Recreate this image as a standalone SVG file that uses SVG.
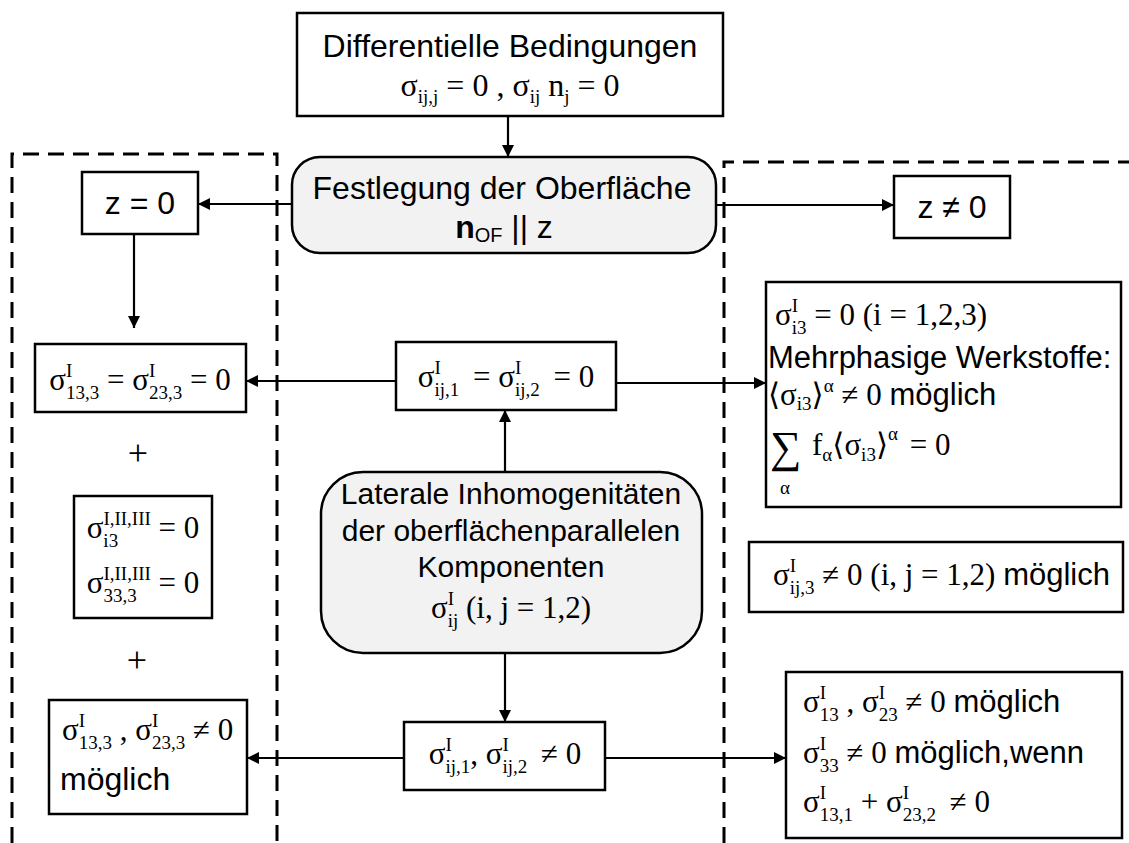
<svg xmlns="http://www.w3.org/2000/svg" width="1129" height="843" viewBox="0 0 1129 843">
<style>
.box{fill:#fff;stroke:#000;stroke-width:2.5}
.rbox{fill:#f2f2f2;stroke:#000;stroke-width:2.5}
.dash{fill:none;stroke:#000;stroke-width:3;stroke-dasharray:16 9}
.con{fill:none;stroke:#000;stroke-width:2.2}
.t{font-family:"Liberation Sans",Arial,sans-serif;font-size:32px;fill:#000}
.t30{font-size:30px}
.t31{font-size:31px}
.m{font-family:"Liberation Serif","Times New Roman","DejaVu Serif",serif;font-size:31px;fill:#000}
.s{font-size:19px}
.pl{font-family:"Liberation Serif",serif;font-size:36px}
.sum{font-size:44px}
</style>
<defs>
<marker id="ah" viewBox="0 0 12 12" refX="12" refY="6" markerWidth="12" markerHeight="12" markerUnits="userSpaceOnUse" orient="auto">
<path d="M0,0 L12,6 L0,12 Z" fill="#000"/>
</marker>
</defs>
<rect width="1129" height="843" fill="#fff"/>

<g id="regions">
<path class="dash" d="M12,843 V154 H277 V843"/>
<path class="dash" d="M724,843 V162 H1129"/>
</g>

<g id="connectors">
<line class="con" x1="508" y1="116" x2="508" y2="157" marker-end="url(#ah)"/>
<line class="con" x1="292" y1="204" x2="198" y2="204" marker-end="url(#ah)"/>
<line class="con" x1="716" y1="205" x2="894" y2="205" marker-end="url(#ah)"/>
<line class="con" x1="134" y1="234" x2="134" y2="328" marker-end="url(#ah)"/>
<line class="con" x1="396" y1="381" x2="246" y2="381" marker-end="url(#ah)"/>
<line class="con" x1="616" y1="383" x2="766" y2="383" marker-end="url(#ah)"/>
<line class="con" x1="505" y1="472" x2="505" y2="410" marker-end="url(#ah)"/>
<line class="con" x1="505" y1="653" x2="505" y2="722" marker-end="url(#ah)"/>
<line class="con" x1="404" y1="758" x2="247" y2="758" marker-end="url(#ah)"/>
<line class="con" x1="605" y1="758" x2="786" y2="758" marker-end="url(#ah)"/>
</g>

<g id="n-top">
<rect class="box" x="297" y="13" width="426" height="103"/>
<text class="t" x="510" y="57" text-anchor="middle">Differentielle Bedingungen</text>
<text class="m" x="510" y="96" text-anchor="middle" style="font-size:32px">σ<tspan class="s" dy="7">ij,j</tspan><tspan dy="-7"> = 0 , σ</tspan><tspan class="s" dy="7">ij</tspan><tspan dy="-7"> n</tspan><tspan class="s" dy="7">j</tspan><tspan dy="-7"> = 0</tspan></text>
</g>

<g id="n-festlegung">
<rect class="rbox" x="292" y="157" width="424" height="96" rx="28"/>
<text class="t" x="502" y="199" text-anchor="middle">Festlegung der Oberfläche</text>
<text class="t" x="504" y="238" text-anchor="middle"><tspan font-weight="bold">n</tspan><tspan style="font-size:20px" dy="4">OF</tspan><tspan dy="-4"> || z</tspan></text>
</g>

<g id="n-z0">
<rect class="box" x="82" y="172" width="116" height="62"/>
<text class="t" x="140" y="214" text-anchor="middle">z = 0</text>
</g>

<g id="n-zne0">
<rect class="box" x="894" y="176" width="116" height="62"/>
<text class="t" x="952" y="218" text-anchor="middle">z ≠ 0</text>
</g>

<g id="n-left1">
<rect class="box" x="35" y="344" width="211" height="68"/>
<text class="m" x="140" y="390" text-anchor="middle">σ<tspan class="s" dy="-13">I</tspan><tspan class="s" dx="-6.3" dy="22">13,3</tspan><tspan dy="-9"> = σ</tspan><tspan class="s" dy="-13">I</tspan><tspan class="s" dx="-6.3" dy="22">23,3</tspan><tspan dy="-9"> = 0</tspan></text>
</g>

<text class="pl" x="138" y="465" text-anchor="middle">+</text>

<g id="n-left2">
<rect class="box" x="74" y="496" width="138" height="122"/>
<text class="m" x="143" y="538" text-anchor="middle">σ<tspan class="s" dy="-13">I,II,III</tspan><tspan class="s" dx="-47.5" dy="22">i3</tspan><tspan dx="32.7" dy="-9"> = 0</tspan></text>
<text class="m" x="143" y="593" text-anchor="middle">σ<tspan class="s" dy="-13">I,II,III</tspan><tspan class="s" dx="-47.5" dy="22">33,3</tspan><tspan dx="14.2" dy="-9"> = 0</tspan></text>
</g>

<text class="pl" x="137" y="672" text-anchor="middle">+</text>

<g id="n-left3">
<rect class="box" x="49" y="700" width="198" height="114"/>
<text class="m" x="62" y="740">σ<tspan class="s" dy="-13">I</tspan><tspan class="s" dx="-6.3" dy="22">13,3</tspan><tspan dy="-9"> , σ</tspan><tspan class="s" dy="-13">I</tspan><tspan class="s" dx="-6.3" dy="22">23,3</tspan><tspan dy="-9"> ≠ 0</tspan></text>
<text class="t" x="60" y="790">möglich</text>
</g>

<g id="n-center1">
<rect class="box" x="396" y="342" width="220" height="68"/>
<text class="m" x="506" y="387" text-anchor="middle">σ<tspan class="s" dy="-13">I</tspan><tspan class="s" dx="-6.3" dy="22">ij,1</tspan><tspan dx="6" dy="-9"> = σ</tspan><tspan class="s" dy="-13">I</tspan><tspan class="s" dx="-6.3" dy="22">ij,2</tspan><tspan dx="6" dy="-9"> = 0</tspan></text>
</g>

<g id="n-laterale">
<rect class="rbox" x="321" y="472" width="381" height="181" rx="42"/>
<text class="t t30" x="511" y="504" text-anchor="middle">Laterale Inhomogenitäten</text>
<text class="t t30" x="511" y="541" text-anchor="middle">der oberflächenparallelen</text>
<text class="t t30" x="511" y="577" text-anchor="middle">Komponenten</text>
<text class="m" x="511" y="618" text-anchor="middle">σ<tspan class="s" dy="-13">I</tspan><tspan class="s" dx="-6.3" dy="22">ij</tspan><tspan dy="-9">  (i, j = 1,2)</tspan></text>
</g>

<g id="n-center2">
<rect class="box" x="404" y="722" width="201" height="68"/>
<text class="m" x="505" y="764" text-anchor="middle">σ<tspan class="s" dy="-13">I</tspan><tspan class="s" dx="-6.3" dy="22">ij,1</tspan><tspan dy="-9">, σ</tspan><tspan class="s" dy="-13">I</tspan><tspan class="s" dx="-6.3" dy="22">ij,2</tspan><tspan dx="6" dy="-9"> ≠ 0</tspan></text>
</g>

<g id="n-right1">
<rect class="box" x="766" y="282" width="355" height="225"/>
<text class="m" x="775" y="325">σ<tspan class="s" dy="-13">I</tspan><tspan class="s" dx="-6.3" dy="22">i3</tspan><tspan dy="-9"> = 0  (i = 1,2,3)</tspan></text>
<text class="t t31" x="768" y="368">Mehrphasige Werkstoffe:</text>
<text class="m" x="768" y="405">⟨σ<tspan class="s" dy="5">i3</tspan><tspan dy="-5">⟩</tspan><tspan class="s" dy="-13">α</tspan><tspan dy="13"> ≠ 0 </tspan><tspan class="t t31">möglich</tspan></text>
<text class="m sum" x="770" y="462">∑</text>
<text class="m s" x="780" y="494">α</text>
<text class="m" x="812" y="455">f<tspan class="s" dy="6">α</tspan><tspan dy="-6">⟨σ</tspan><tspan class="s" dy="6">i3</tspan><tspan dy="-6">⟩</tspan><tspan class="s" dy="-15">α</tspan><tspan dx="4" dy="15"> = 0</tspan></text>
</g>

<g id="n-right2">
<rect class="box" x="749" y="542" width="374" height="70"/>
<text class="m" x="773" y="585">σ<tspan class="s" dy="-13">I</tspan><tspan class="s" dx="-6.3" dy="22">ij,3</tspan><tspan dy="-9"> ≠ 0  (i, j = 1,2) </tspan><tspan class="t t31">möglich</tspan></text>
</g>

<g id="n-right3">
<rect class="box" x="786" y="672" width="336" height="166"/>
<text class="m" x="803" y="712">σ<tspan class="s" dy="-13">I</tspan><tspan class="s" dx="-6.3" dy="22">13</tspan><tspan dy="-9"> , σ</tspan><tspan class="s" dy="-13">I</tspan><tspan class="s" dx="-6.3" dy="22">23</tspan><tspan dy="-9"> ≠ 0 </tspan><tspan class="t t31">möglich</tspan></text>
<text class="m" x="803" y="763">σ<tspan class="s" dy="-13">I</tspan><tspan class="s" dx="-6.3" dy="22">33</tspan><tspan dy="-9"> ≠ 0 </tspan><tspan class="t t31">möglich,wenn</tspan></text>
<text class="m" x="803" y="812">σ<tspan class="s" dy="-13">I</tspan><tspan class="s" dx="-6.3" dy="22">13,1</tspan><tspan dy="-9"> + σ</tspan><tspan class="s" dy="-13">I</tspan><tspan class="s" dx="-6.3" dy="22">23,2</tspan><tspan dx="6" dy="-9"> ≠ 0</tspan></text>
</g>
</svg>
